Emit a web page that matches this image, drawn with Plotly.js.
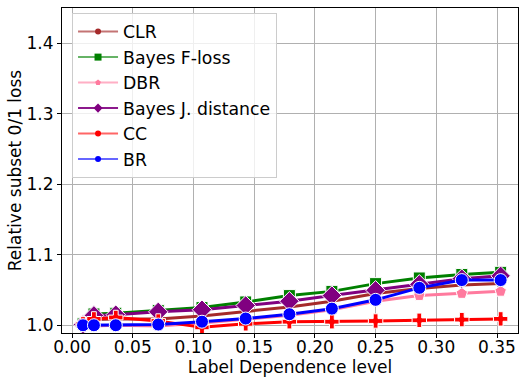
<!DOCTYPE html>
<html>
<head>
<meta charset="utf-8">
<script src="https://cdn.plot.ly/plotly-3.0.1.min.js"></script>
<style>html,body{margin:0;padding:0;background:#fff;}#chart{width:519px;height:380px;}</style>
</head>
<body>
<div id="chart"></div>
<script>
// Label dependence levels (x)
const dependence = [0.009, 0.018, 0.036, 0.071, 0.107, 0.143, 0.179, 0.214, 0.25, 0.286, 0.321, 0.353];
// Relative subset 0/1 loss per method
const clr    = [1.001, 1.008, 1.009, 1.009, 1.013, 1.019, 1.026, 1.034, 1.045, 1.052, 1.057, 1.059];
const bayesF = [1.002, 1.016, 1.017, 1.021, 1.025, 1.033, 1.042, 1.048, 1.059, 1.067, 1.072, 1.075];
const dbr    = [1.000, 0.999, 1.000, 0.999, 1.003, 1.008, 1.014, 1.022, 1.034, 1.042, 1.045, 1.048];
const bayesJ = [1.001, 1.014, 1.015, 1.019, 1.022, 1.028, 1.034, 1.042, 1.0495, 1.058, 1.066, 1.070];
const cc     = [1.002, 1.009, 1.011, 1.006, 0.997, 1.002, 1.005, 1.005, 1.006, 1.007, 1.008, 1.009];
const br     = [1.000, 1.000, 1.000, 1.001, 1.005, 1.0095, 1.0156, 1.0235, 1.036, 1.053, 1.064, 1.064];
const names  = ['CLR', 'Bayes F-loss', 'DBR', 'Bayes J. distance', 'CC', 'BR'];

const series = [clr, bayesF, dbr, bayesJ, cc, br];
const colors = ['#a52a2a', '#008000', '#ff7a9e', '#800080', '#ff0000', '#0000ff'];
const lightColors = ['rgba(165,42,42,0.65)', 'rgba(0,128,0,0.6)', 'rgba(255,122,158,0.6)', 'rgba(128,0,128,0.9)', 'rgba(255,0,0,0.6)', 'rgba(0,0,255,0.6)'];
const symbols = ['circle', 'square', 'pentagon', 'diamond', 'cross', 'circle'];
const sizes = [6, 12, 12, 15, 12, 13];
const legSizes = [6, 7, 6, 7, 6, 6];

const traces = [];
series.forEach((ys, i) => {
  traces.push({
    x: dependence, y: ys, type: 'scatter', mode: 'lines+markers', name: names[i],
    showlegend: false,
    line: {color: colors[i], width: 3},
    marker: {symbol: symbols[i], size: sizes[i], color: colors[i], line: {color: '#ffffff', width: 1}}
  });
});
series.forEach((ys, i) => {
  traces.push({
    x: [null], y: [null], type: 'scatter', mode: 'lines+markers', name: names[i],
    showlegend: true,
    line: {color: lightColors[i], width: 2},
    marker: {symbol: i === 4 ? 'circle' : symbols[i], size: legSizes[i], color: colors[i]}
  });
});

const font = {family: 'DejaVu Sans', size: 17, color: '#000'};
const layout = {
  width: 519, height: 380,
  margin: {l: 62, r: 1, t: 8, b: 47},
  paper_bgcolor: '#fff', plot_bgcolor: '#fff',
  font: font,
  showlegend: true,
  legend: {
    x: 0.022, y: 0.985, xanchor: 'left', yanchor: 'top',
    bgcolor: 'rgba(255,255,255,0.8)', bordercolor: '#cccccc', borderwidth: 1,
    font: {family: 'DejaVu Sans', size: 17.3, color: '#000'},
    traceorder: 'normal', itemwidth: 40
  },
  xaxis: {
    range: [-0.0083, 0.3673],
    tickvals: [0, 0.05, 0.1, 0.15, 0.2, 0.25, 0.3, 0.35],
    ticktext: ['0.00', '0.05', '0.10', '0.15', '0.20', '0.25', '0.30', '0.35'],
    ticks: 'outside', ticklen: 4, tickcolor: '#000', tickwidth: 1,
    ticklabelstandoff: -5,
    showgrid: true, gridcolor: '#b0b0b0', gridwidth: 1,
    showline: true, linecolor: '#000', linewidth: 1, mirror: true,
    zeroline: false,
    tickfont: {family: 'DejaVu Sans', size: 17, color: '#000'},
    title: {text: 'Label Dependence level', font: {family: 'DejaVu Sans', size: 17, color: '#000'}, standoff: 0}
  },
  yaxis: {
    range: [0.989, 1.4496],
    tickvals: [1.0, 1.1, 1.2, 1.3, 1.4],
    ticktext: ['1.0', '1.1', '1.2', '1.3', '1.4'],
    ticks: 'outside', ticklen: 4, tickcolor: '#000', tickwidth: 1,
    showgrid: true, gridcolor: '#b0b0b0', gridwidth: 1,
    showline: true, linecolor: '#000', linewidth: 1, mirror: true,
    zeroline: false,
    tickfont: {family: 'DejaVu Sans', size: 17, color: '#000'},
    title: {text: 'Relative subset 0/1 loss', font: {family: 'DejaVu Sans', size: 17, color: '#000'}, standoff: 0}
  }
};

Plotly.newPlot('chart', traces, layout, {displayModeBar: false, staticPlot: true});
</script>
</body>
</html>
